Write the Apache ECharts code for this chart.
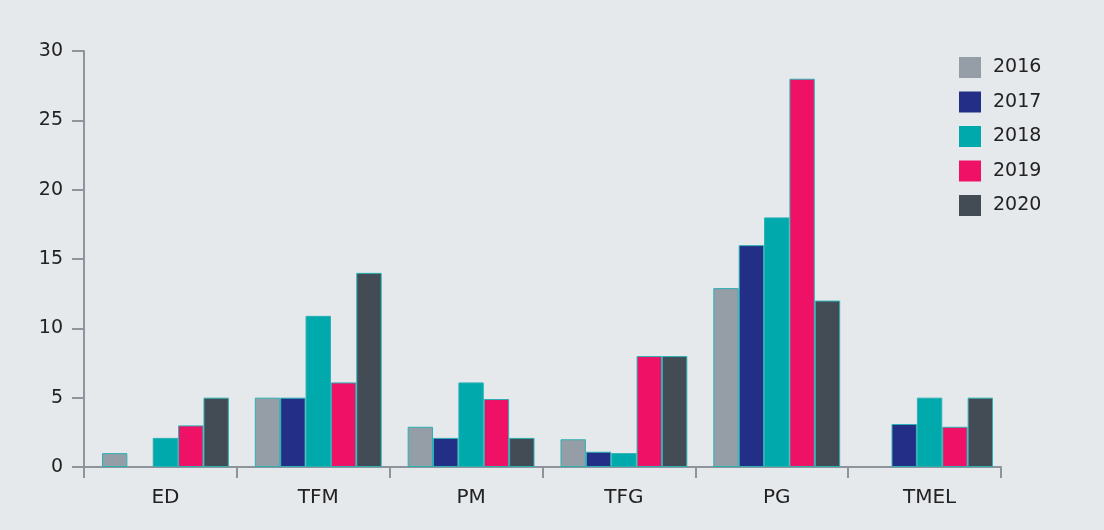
<!DOCTYPE html>
<html><head><meta charset="utf-8">
<script src="https://cdn.jsdelivr.net/npm/echarts@6/dist/echarts.min.js"></script>
<style>html,body{margin:0;padding:0;background:#e6e9ec;}#c{width:1104px;height:530px;}</style>
</head><body><div id="c"></div>
<script>
const categories = ['ED','TFM','PM','TFG','PG','TMEL'];
const years = ['2016','2017','2018','2019','2020'];
const v2016 = [1, 5, 2.9, 2, 12.9, 0];
const v2017 = [0, 5, 2.1, 1.1, 16, 3.1];
const v2018 = [2.1, 10.9, 6.1, 1, 18, 5];
const v2019 = [3, 6.1, 4.9, 8, 28, 2.9];
const v2020 = [5, 14, 2.1, 8, 12, 5];
const yTicks = [0, 5, 10, 15, 20, 25, 30];
const colors = ['#959ea6','#232f86','#00a9ac','#ee1166','#434c55'];
const values = [v2016, v2017, v2018, v2019, v2020];
const font = '"DejaVu Sans", sans-serif';
const yMin = yTicks[0], yMax = yTicks[yTicks.length-1];
const chart = echarts.init(document.getElementById('c'));
chart.setOption({
  backgroundColor: '#e6e9ec',
  animation: false,
  grid: [
    {left: 89, right: 98, top: 51, bottom: 63},
    {left: 84, right: 103, top: 51, bottom: 63}
  ],
  legend: {
    orient: 'vertical', left: 959, top: 57, padding: 0, itemWidth: 22, itemHeight: 21, itemGap: 13.5,
    icon: 'rect',
    itemStyle: {borderWidth: 0},
    textStyle: {fontFamily: font, fontSize: 19, lineHeight: 21, color: '#222', padding: [0,0,0,7]},
    data: years
  },
  xAxis: [
    {
      type: 'category', data: categories, gridIndex: 0,
      axisLine: {show: false}, axisTick: {show: false},
      axisLabel: {fontFamily: font, fontSize: 20, color: '#222', margin: 21}
    },
    {
      type: 'category', data: categories, gridIndex: 1,
      axisLine: {lineStyle: {color: '#8e949b', width: 2}},
      axisTick: {show: true, length: 11, lineStyle: {color: '#8e949b', width: 2}},
      axisLabel: {show: false}
    }
  ],
  yAxis: [
    {
      type: 'value', gridIndex: 0, min: yMin, max: yMax, interval: 5, show: false
    },
    {
      type: 'value', gridIndex: 1, min: yMin, max: yMax, interval: 5,
      splitLine: {show: false},
      axisLine: {show: true, lineStyle: {color: '#8e949b', width: 2}},
      axisTick: {show: true, length: 12, lineStyle: {color: '#8e949b', width: 2}},
      axisLabel: {fontFamily: font, fontSize: 19, color: '#222', margin: 21}
    }
  ],
  series: years.map((y, i) => ({
    name: y, type: 'bar', xAxisIndex: 0, yAxisIndex: 0,
    data: values[i].map(v => v === 0 ? null : v), barGap: '0%', barCategoryGap: '17%',
    itemStyle: {color: colors[i], borderColor: '#2bb0b3', borderWidth: 1}
  }))
});
</script></body></html>
